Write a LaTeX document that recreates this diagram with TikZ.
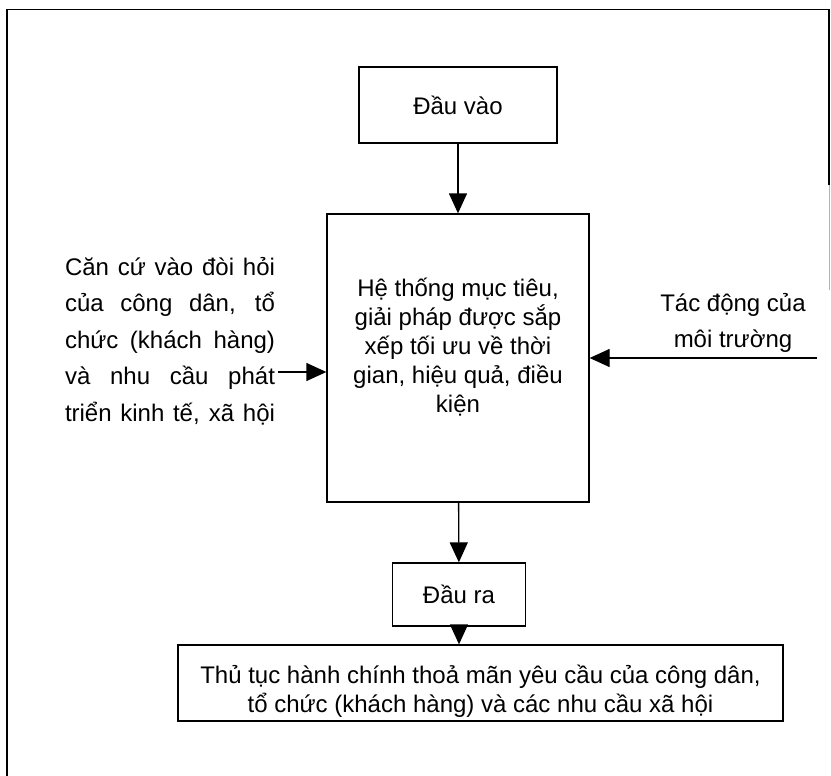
\documentclass[tikz,border=0pt]{standalone}
\usepackage{fontspec}
\setmainfont{Liberation Sans}
\usetikzlibrary{arrows.meta, positioning}

\begin{document}
\begin{tikzpicture}[x=1pt, y=-1pt,
    box/.style={draw, line width=1.3pt, align=center, inner sep=0pt,
                font=\fontsize{24}{29}\selectfont},
    note/.style={inner sep=0pt, font=\fontsize{24}{36.5}\selectfont},
    arr/.style={line width=1.3pt, -{Triangle[length=20pt, width=18pt]}}]
    % Khung ngoài và sơ đồ
    \useasboundingbox (0,0) rectangle (831,776);
    \draw[line width=1.3pt] (7,776) -- (7,9.5) -- (829,9.5) -- (829,185);
    \draw[line width=0.8pt, gray!60] (829,185) -- (829,290);

    \node[box, minimum width=198pt, minimum height=76pt] (input) at (458,105) {Đầu vào};
    \node[box, minimum width=262pt, minimum height=288pt] (system) at (458,358) {};
    \node[box, draw=none] (systemtext) at ([yshift=11pt]system.center)
        {Hệ thống mục tiêu,\\giải pháp được sắp\\xếp tối ưu về thời\\gian, hiệu quả, điều\\kiện};
    \node[box, minimum width=133pt, minimum height=63pt] (output) at (459,594.5) {Đầu ra};
    \node[box, minimum width=605pt, minimum height=76pt] (result) at (480.5,683) {};
    \node[box, draw=none] (resulttext) at ([yshift=-8pt]result.center)
        {Thủ tục hành chính thoả mãn yêu cầu của công dân,\\tổ chức (khách hàng) và các nhu cầu xã hội};

    \node[note, align=left] (demand) at (170,341)
        {\makebox[210pt][s]{Căn cứ vào đòi hỏi}\\
         \makebox[210pt][s]{của công dân, tổ}\\
         \makebox[210pt][s]{chức (khách hàng)}\\
         \makebox[210pt][s]{và nhu cầu phát}\\
         \makebox[210pt][s]{triển kinh tế, xã hội}};
    \node[note, align=center] (environ) at (733,323) {Tác động của\\môi trường};

    \coordinate (leftin) at (278,372);
    \coordinate (rightin) at (817,358);

    \draw[arr] (input) -- (system);
    \draw[arr] (system) -- (output);
    \draw[arr] (output.south) -- (output.south |- result.north);
    \draw[arr] (leftin) -- (leftin -| system.west);
    \draw[arr] (rightin) -- (rightin -| system.east);
\end{tikzpicture}
\end{document}
